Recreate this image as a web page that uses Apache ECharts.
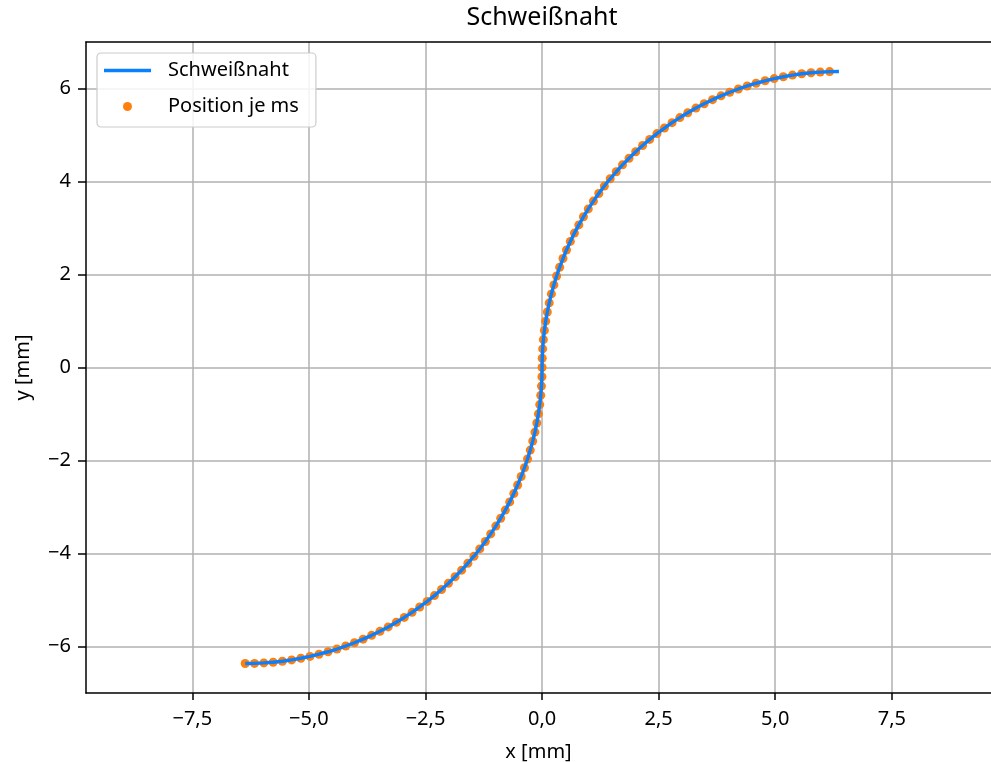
<!DOCTYPE html>
<html>
<head>
<meta charset="utf-8">
<script src="https://cdn.jsdelivr.net/npm/echarts@6/dist/echarts.min.js"></script>
<style>
html,body{margin:0;padding:0;background:#fff;}
#chart{width:991px;height:762px;}
</style>
</head>
<body>
<div id="chart"></div>
<script>
// Position je ms (x, y in mm)
const posX = [-6.366,-6.166,-5.966,-5.767,-5.568,-5.370,-5.173,-4.977,-4.783,-4.590,-4.399,-4.210,-4.023,-3.838,-3.655,-3.476,-3.299,-3.125,-2.955,-2.788,-2.624,-2.464,-2.308,-2.156,-2.008,-1.865,-1.725,-1.591,-1.461,-1.336,-1.216,-1.101,-0.991,-0.887,-0.788,-0.694,-0.606,-0.524,-0.448,-0.377,-0.312,-0.253,-0.200,-0.153,-0.113,-0.078,-0.050,-0.028,-0.013,-0.003,
0,0.003,0.013,0.028,0.050,0.078,0.113,0.153,0.200,0.253,0.312,0.377,0.448,0.524,0.606,0.694,0.788,0.887,0.991,1.101,1.216,1.336,1.461,1.591,1.725,1.865,2.008,2.156,2.308,2.464,2.624,2.788,2.955,3.125,3.299,3.476,3.655,3.838,4.023,4.210,4.399,4.590,4.783,4.977,5.173,5.370,5.568,5.767,5.966,6.166];
const posY = [-6.366,-6.363,-6.353,-6.338,-6.316,-6.288,-6.253,-6.213,-6.166,-6.113,-6.054,-5.990,-5.919,-5.842,-5.760,-5.672,-5.579,-5.479,-5.375,-5.265,-5.150,-5.030,-4.905,-4.775,-4.641,-4.501,-4.358,-4.210,-4.058,-3.902,-3.742,-3.578,-3.411,-3.241,-3.067,-2.890,-2.711,-2.528,-2.343,-2.156,-1.967,-1.776,-1.583,-1.389,-1.193,-0.996,-0.798,-0.599,-0.400,-0.200,
0,0.200,0.400,0.599,0.798,0.996,1.193,1.389,1.583,1.776,1.967,2.156,2.343,2.528,2.711,2.890,3.067,3.241,3.411,3.578,3.742,3.902,4.058,4.210,4.358,4.501,4.641,4.775,4.905,5.030,5.150,5.265,5.375,5.479,5.579,5.672,5.760,5.842,5.919,5.990,6.054,6.113,6.166,6.213,6.253,6.288,6.316,6.338,6.353,6.363];
// end point of the seam line
const seamEndX = 6.366;
const seamEndY = 6.366;

const xTicks = [-7.5,-5,-2.5,0,2.5,5,7.5];
const yTicks = [-6,-4,-2,0,2,4,6];

const titleText = 'Schweißnaht';
const lineName = 'Schweißnaht';
const scatterName = 'Position je ms';
const xName = 'x [mm]';
const yName = 'y [mm]';

const FONT = '"Noto Sans", "DejaVu Sans", sans-serif';
const fmtX = v => v.toFixed(1).replace('.', ',').replace('-', '\u2212');
const fmtY = v => String(Math.round(v)).replace('-', '\u2212');

const scatterData = posX.map((x, i) => [x, posY[i]]);
const lineData = scatterData.concat([[seamEndX, seamEndY]]);

const BLUE = '#0a80ff';
const ORANGE = '#ff7f0e';

const chart = echarts.init(document.getElementById('chart'), null, {renderer: 'canvas'});
chart.setOption({
  animation: false,
  backgroundColor: '#ffffff',
  textStyle: {fontFamily: FONT},
  title: {
    text: titleText,
    left: 542,
    textAlign: 'center',
    top: 5,
    padding: 0,
    textStyle: {fontFamily: FONT, fontSize: 25, fontWeight: 'normal', color: '#000'}
  },
  grid: {
    left: 86, top: 42, bottom: 69, right: 0,
    show: false,
    containLabel: false,
    outerBoundsMode: 'none'
  },
  legend: {
    orient: 'vertical',
    left: 97, top: 53,
    itemWidth: 47, itemHeight: 9,
    itemGap: 13,
    padding: [6, 17, 9, 7],
    backgroundColor: 'rgba(255,255,255,0.85)',
    borderColor: '#cccccc',
    borderWidth: 1.2,
    borderRadius: 4,
    textStyle: {fontFamily: FONT, fontSize: 20, color: '#000', lineHeight: 23, padding: [0,0,0,12]},
    data: [
      {name: lineName, icon: 'path://M0,0 L47,0 L47,3.4 L0,3.4 Z', itemStyle: {color: BLUE}},
      {name: scatterName, icon: 'circle', itemStyle: {color: ORANGE}}
    ]
  },
  xAxis: [{
    type: 'value', min: -9.78, max: 9.627,
    name: xName, nameLocation: 'middle', nameGap: 49,
    nameTextStyle: {fontFamily: FONT, fontSize: 20, color: '#000'},
    axisLine: {show: true, onZero: false, lineStyle: {color: '#000', width: 1.5}},
    axisTick: {show: true, inside: false, length: 7, customValues: xTicks, lineStyle: {color: '#000', width: 1.5}},
    axisLabel: {show: true, margin: 16, customValues: xTicks, formatter: fmtX, fontFamily: FONT, fontSize: 20, color: '#000'},
    splitLine: {show: true, lineStyle: {color: '#b0b0b0', width: 1.5}}
  }, {
    type: 'value', min: -9.78, max: 9.627, position: 'top',
    axisLine: {show: true, onZero: false, lineStyle: {color: '#000', width: 1.5}},
    axisTick: {show: false}, axisLabel: {show: false}, splitLine: {show: false}
  }],
  yAxis: {
    type: 'value', min: -7, max: 7,
    name: yName, nameLocation: 'middle', nameGap: 53,
    nameTextStyle: {fontFamily: FONT, fontSize: 20, color: '#000'},
    axisLine: {show: true, onZero: false, lineStyle: {color: '#000', width: 1.5}},
    axisTick: {show: true, inside: false, length: 8, customValues: yTicks, lineStyle: {color: '#000', width: 1.5}},
    axisLabel: {show: true, margin: 15, customValues: yTicks, formatter: fmtY, fontFamily: FONT, fontSize: 20, color: '#000'},
    splitLine: {show: true, lineStyle: {color: '#b0b0b0', width: 1.5}}
  },
  series: [
    {
      name: scatterName, type: 'scatter', z: 2,
      symbol: 'circle', symbolSize: 9,
      itemStyle: {color: ORANGE, opacity: 1},
      emphasis: {disabled: true},
      data: scatterData
    },
    {
      name: lineName, type: 'line', z: 3,
      symbol: 'none', showSymbol: false,
      lineStyle: {color: BLUE, width: 3.4},
      itemStyle: {color: BLUE},
      emphasis: {disabled: true},
      data: lineData
    }
  ]
});
</script>
</body>
</html>
